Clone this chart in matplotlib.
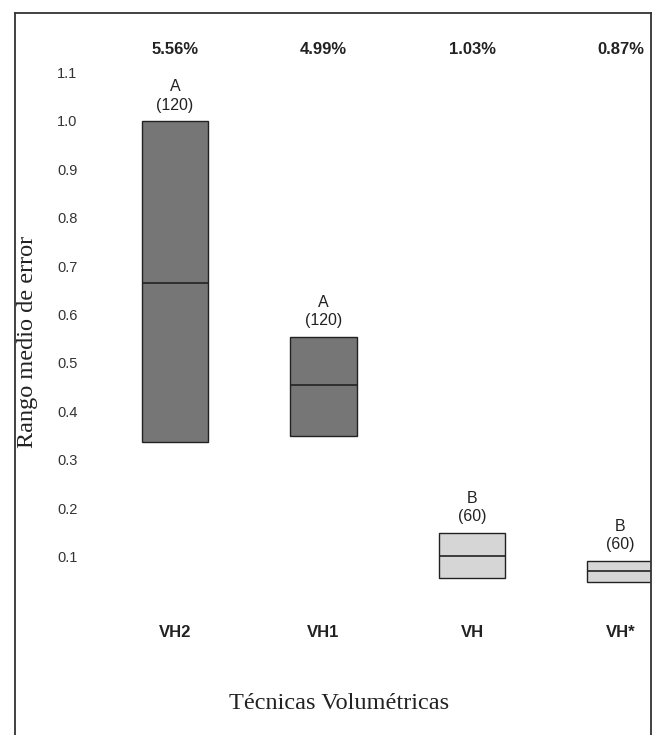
import matplotlib
matplotlib.use("Agg")
import matplotlib.pyplot as plt
import matplotlib.transforms as mtransforms
import numpy as np

# rango medio de error por tecnica: minimo, mediana, maximo
tecnicas = ["VH2", "VH1", "VH", "VH*"]
minimos = [0.337, 0.349, 0.056, 0.048]
medianas = [0.665, 0.455, 0.101, 0.070]
maximos = [1.0, 0.554, 0.149, 0.091]
grupos = ["A", "A", "B", "B"]
n_obs = [120, 120, 60, 60]
porcentajes = ["5.56%", "4.99%", "1.03%", "0.87%"]
yticks = [0.1, 0.2, 0.3, 0.4, 0.5, 0.6, 0.7, 0.8, 0.9, 1.0, 1.1]

colores = {"A": "#767676", "B": "#d6d6d6"}

fig = plt.figure(figsize=(6.53, 7.35), dpi=100)
ax = fig.add_axes([15 / 653, 0.0, 636 / 653, (735 - 13) / 735])

x = np.arange(len(tecnicas))
ancho = 0.45
alturas = np.array(maximos) - np.array(minimos)
ax.bar(x, alturas, bottom=minimos, width=ancho,
       color=[colores[g] for g in grupos], edgecolor="#222222", linewidth=1.0)
ax.hlines(medianas, x - ancho / 2, x + ancho / 2, color="#222222", linewidth=1.2)

for xi, top, g, n in zip(x, maximos, grupos, n_obs):
    ax.annotate(f"{g}\n({n})", (xi, top), xytext=(0, 6), textcoords="offset points",
                ha="center", va="bottom", fontsize=11.5, family="Liberation Sans",
                linespacing=1.3, color="#222222")

trans = mtransforms.blended_transform_factory(ax.transData, ax.transAxes)
for xi, p in zip(x, porcentajes):
    ax.text(xi, 0.95, p, transform=trans, ha="center", va="center",
            fontsize=12, fontweight="bold", family="Liberation Sans", color="#222222")
for xi, t in zip(x, tecnicas):
    ax.text(xi, -0.058, t, ha="center", va="center",
            fontsize=12, fontweight="bold", family="Liberation Sans", color="#222222")

ax.set_xlim(-1.077, 3.205)
ax.set_ylim(-0.269, 1.223)
ax.set_xticks([])
ax.set_yticks(yticks)
ax.set_yticklabels([f"{v:.1f}" for v in yticks], family="Liberation Sans",
                   fontsize=10.5, color="#333333")
ax.tick_params(axis="y", length=0, pad=-45)

ax.text(0.509, 0.044, "Técnicas Volumétricas", transform=ax.transAxes,
        ha="center", va="center", fontsize=17.5, family="Liberation Serif", color="#222222")
ax.text(0.02, 0.544, "Rango medio de error", transform=ax.transAxes, rotation=90,
        ha="center", va="center", fontsize=17.5, family="Liberation Serif", color="#222222")

for s in ["left", "top", "right"]:
    ax.spines[s].set_color("#333333")
    ax.spines[s].set_linewidth(1.3)
ax.spines["bottom"].set_visible(False)

fig.savefig("out.png", dpi=100)
